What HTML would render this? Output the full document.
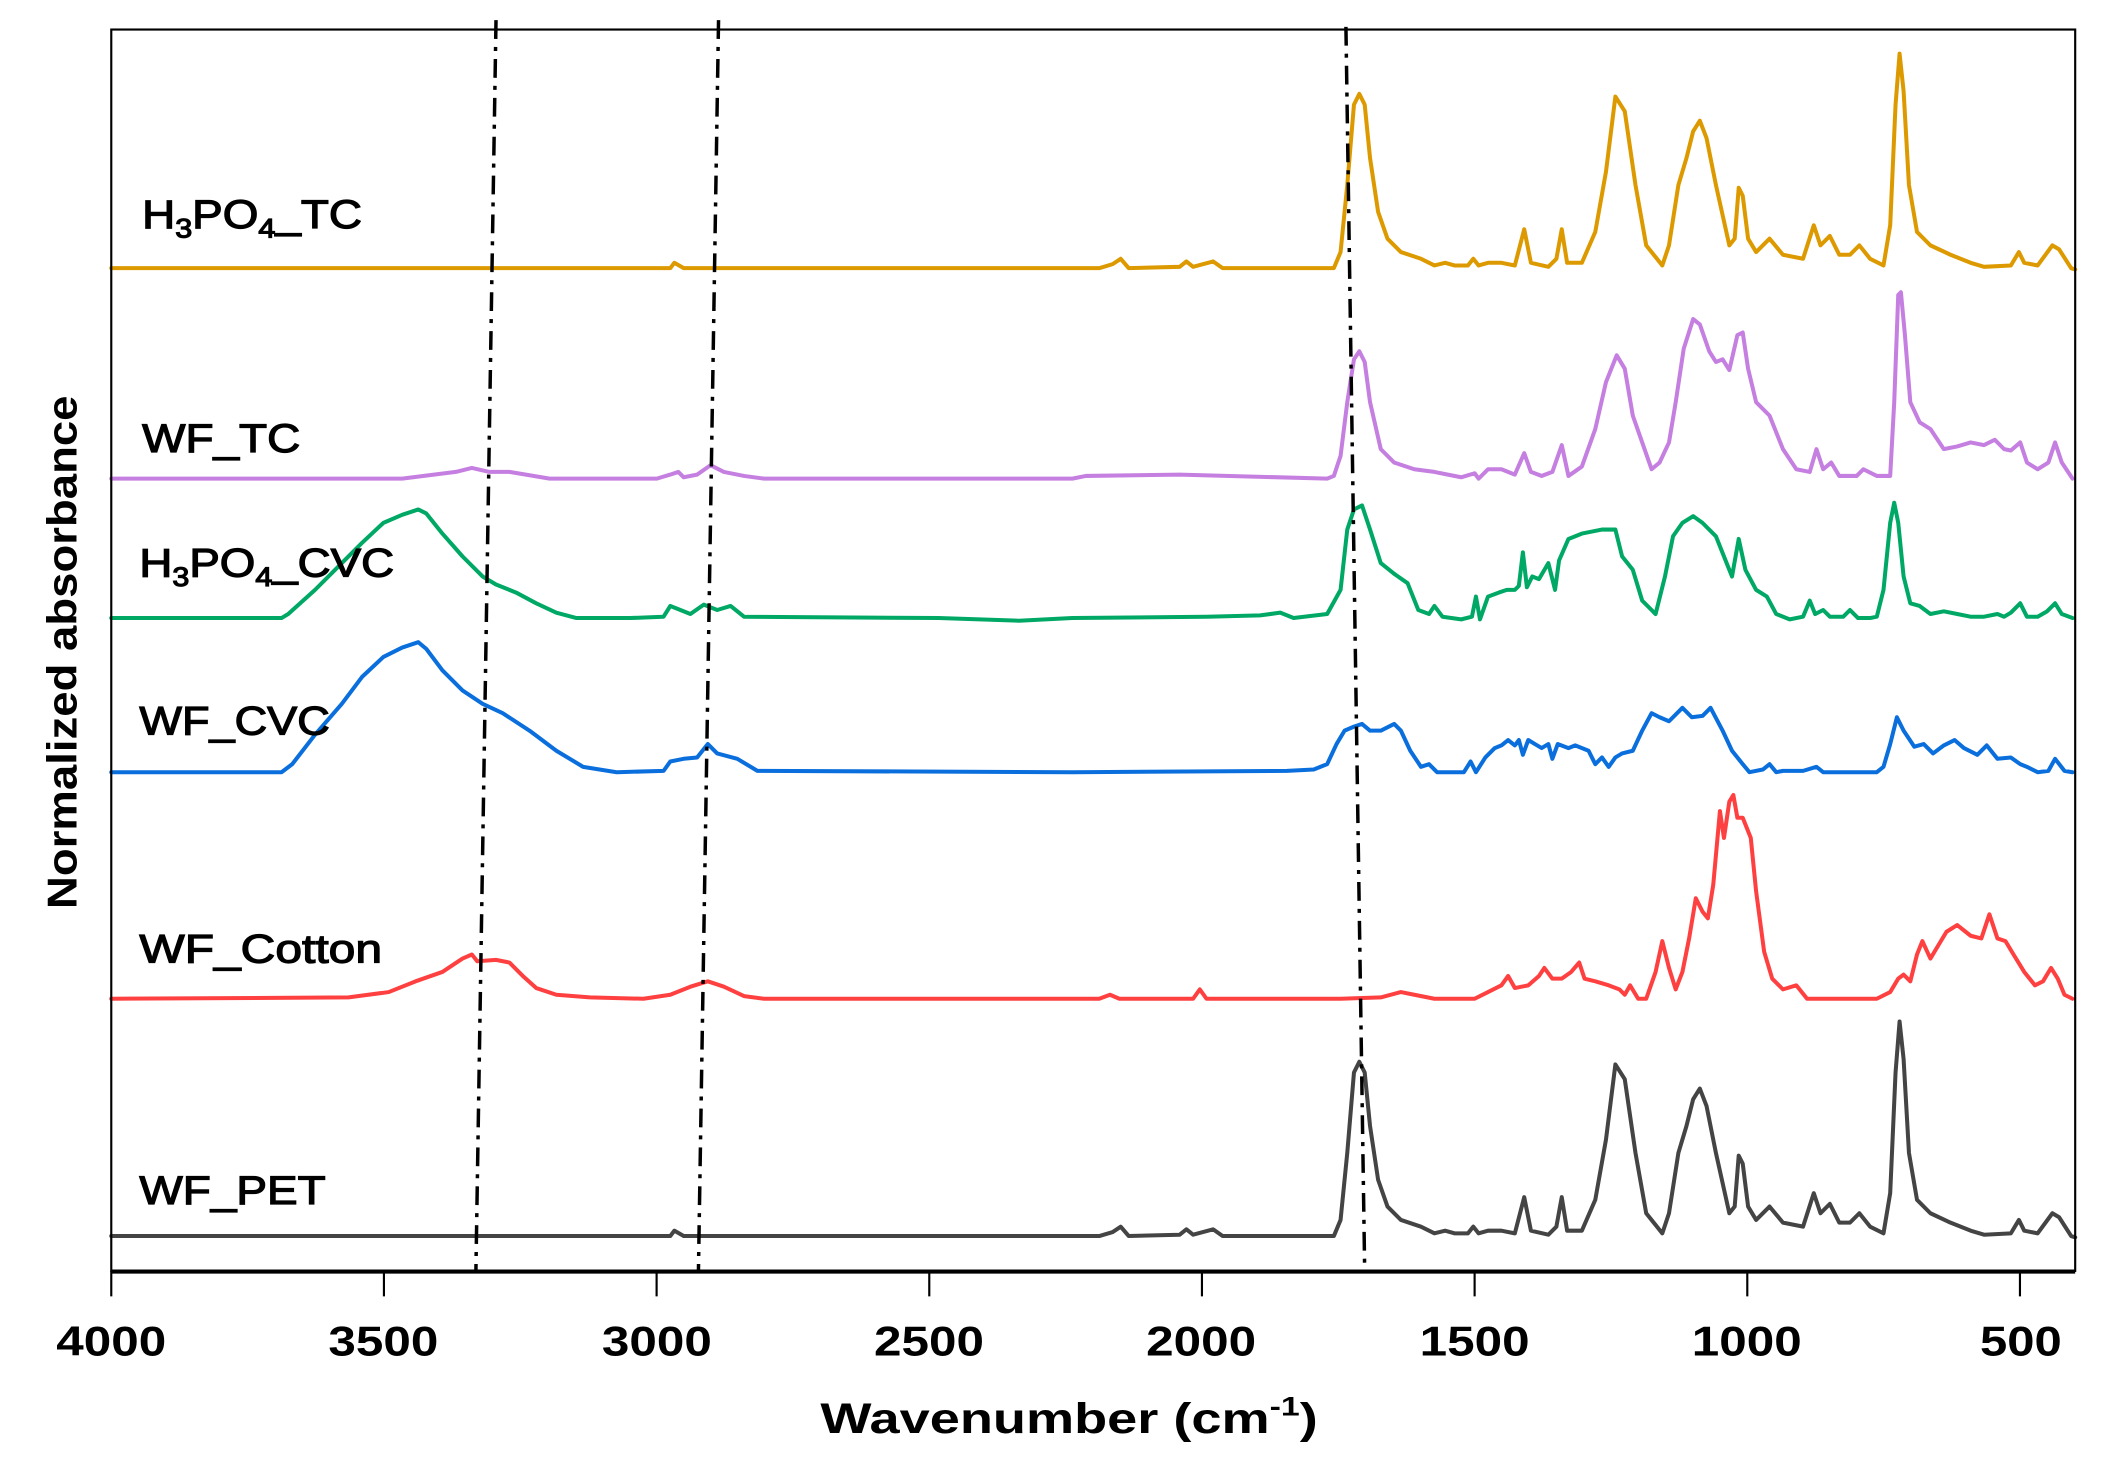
<!DOCTYPE html>
<html><head><meta charset="utf-8"><style>
html,body{margin:0;padding:0;background:#fff;}
svg{display:block;}
text{font-family:"Liberation Sans",Arial,sans-serif;}
</style></head><body>
<svg width="2102" height="1468" viewBox="0 0 1568 1095" xmlns="http://www.w3.org/2000/svg">
<rect x="0" y="0" width="1568" height="1095" fill="#fff"/>
<defs>
<polyline id="pet" points="83,922 500,922 503,918 510,922 820,922 830,919 836,915 842,922 880,921 885,917 890,921 905,917 912,922 995,922 1000,910 1005,860 1010,800 1014,792 1018,800 1022,840 1028,880 1035,900 1045,910 1060,915 1070,920 1078,918 1085,920 1095,920 1099,915 1103,920 1110,918 1120,918 1130,920 1137,893 1142,918 1155,921 1161,915 1165,893 1169,918 1180,918 1190,895 1198,850 1205,794 1212,805 1220,860 1228,905 1236,915 1240,920 1245,905 1252,860 1258,840 1263,820 1268,812 1273,825 1280,860 1290,905 1294,900 1297,862 1300,868 1304,900 1310,910 1320,900 1330,912 1345,915 1353,890 1358,905 1365,898 1372,912 1380,912 1387,905 1395,915 1405,920 1410,890 1414,800 1417,762 1420,790 1424,860 1430,895 1440,905 1455,912 1470,918 1480,921 1500,920 1506,910 1510,918 1520,920 1531,905 1536,908 1545,922 1548,923"/>
</defs>
<g fill="none" stroke-width="3" stroke-linejoin="round" stroke-linecap="round">
<use href="#pet" stroke="#444444"/>
<use href="#pet" stroke="#dd9a00" transform="translate(0,-722)"/>
<polyline stroke="#c57fe0" points="83,357 300,357 340,352 352,349 365,352 380,352 410,357 490,357 500,354 506,352 510,356 520,354 530,347 540,352 555,355 570,357 800,357 810,355 880,354 990,357 995,355 1000,340 1005,300 1010,268 1014,262 1018,270 1022,300 1030,335 1040,345 1055,350 1070,352 1080,354 1090,356 1100,353 1103,357 1110,350 1120,350 1130,354 1137,338 1142,352 1150,355 1158,352 1165,332 1170,355 1180,348 1190,320 1198,285 1206,265 1212,275 1218,310 1225,330 1232,350 1238,345 1245,330 1250,300 1256,260 1263,238 1268,242 1275,262 1280,270 1285,268 1290,276 1296,250 1300,248 1304,275 1310,300 1320,310 1330,335 1340,350 1350,352 1355,335 1360,350 1366,345 1372,355 1385,355 1390,350 1400,355 1410,355 1413,300 1416,220 1418,218 1421,250 1425,300 1432,315 1440,320 1450,335 1460,333 1470,330 1480,332 1488,328 1495,335 1500,336 1507,330 1512,345 1520,350 1528,345 1533,330 1538,345 1546,357"/>
<polyline stroke="#00a865" points="83,461 210,461 215,458 235,440 255,420 270,405 286,390 300,384 312,380 318,383 330,398 345,415 360,430 370,436 385,442 400,450 415,457 430,461 470,461 495,460 500,452 505,454 515,458 525,451 535,455 545,452 555,460 700,461 760,463 800,461 900,460 940,459 955,457 965,461 990,458 1000,440 1005,395 1010,380 1016,377 1022,395 1030,420 1040,428 1050,435 1058,455 1066,458 1070,452 1076,460 1090,462 1098,460 1101,445 1104,462 1110,445 1118,442 1124,440 1130,440 1133,437 1136,412 1139,438 1143,430 1148,432 1155,420 1160,440 1163,418 1170,402 1180,398 1195,395 1205,395 1210,415 1218,425 1225,448 1232,455 1235,458 1242,430 1248,400 1255,390 1263,385 1270,390 1280,400 1288,420 1292,430 1297,402 1302,425 1310,440 1318,445 1325,458 1335,462 1345,460 1350,448 1354,458 1360,455 1365,460 1375,460 1380,455 1386,461 1395,461 1400,460 1405,440 1410,390 1413,375 1416,390 1420,430 1425,450 1432,452 1440,458 1450,456 1460,458 1470,460 1480,460 1490,458 1495,460 1500,457 1507,450 1512,460 1520,460 1527,456 1533,450 1538,458 1546,461"/>
<polyline stroke="#0a6fdc" points="83,576 210,576 218,570 235,548 255,525 270,505 286,490 300,483 312,479 318,484 330,500 345,515 360,525 375,532 395,545 415,560 435,572 460,576 495,575 500,568 510,566 520,565 528,555 535,562 550,566 565,575 800,576 960,575 980,574 990,570 997,555 1003,545 1010,542 1016,540 1022,545 1030,545 1040,540 1045,545 1052,560 1060,572 1066,570 1072,576 1092,576 1097,568 1101,576 1108,565 1115,558 1120,556 1125,552 1130,556 1133,552 1136,563 1140,552 1145,555 1150,558 1155,555 1158,566 1162,555 1170,558 1175,556 1185,560 1190,570 1195,565 1200,572 1205,565 1210,562 1218,560 1225,545 1232,532 1238,535 1245,538 1255,528 1262,535 1270,534 1276,528 1285,545 1292,560 1300,570 1305,576 1315,574 1320,570 1325,576 1330,575 1345,575 1355,572 1360,576 1400,576 1405,572 1410,555 1415,535 1420,545 1428,557 1435,555 1442,562 1450,556 1458,552 1465,558 1475,563 1482,556 1490,566 1500,565 1507,570 1512,572 1520,576 1528,575 1533,566 1540,575 1546,576"/>
<polyline stroke="#ff4040" points="83,745 260,744 290,740 310,732 330,725 345,715 352,712 356,717 370,716 380,718 390,728 400,737 415,742 440,744 480,745 500,742 515,736 528,732 540,736 555,743 570,745 820,745 828,742 835,745 890,745 895,738 900,745 1000,745 1030,744 1045,740 1055,742 1070,745 1100,745 1110,740 1120,735 1125,728 1130,737 1140,735 1148,728 1152,722 1158,730 1165,730 1172,725 1178,718 1182,730 1190,732 1200,735 1208,738 1212,742 1216,735 1222,745 1228,745 1235,725 1240,702 1245,722 1250,738 1255,725 1260,700 1265,670 1270,680 1274,685 1278,660 1283,605 1286,625 1290,598 1293,593 1296,610 1300,610 1306,625 1310,665 1316,710 1322,730 1330,738 1340,735 1348,745 1400,745 1410,740 1416,730 1420,727 1425,732 1430,712 1434,702 1440,715 1446,705 1452,695 1460,690 1470,698 1478,700 1484,682 1490,700 1496,702 1502,712 1510,725 1518,735 1524,732 1530,722 1535,730 1540,742 1546,745"/>
</g>
<g stroke="#000" stroke-width="2.6" stroke-dasharray="14,6,3,6" fill="none">
<line x1="370" y1="15" x2="355" y2="948"/>
<line x1="536" y1="15" x2="521" y2="948"/>
<line x1="1004" y1="20" x2="1018" y2="948"/>
</g>
<rect x="83" y="22" width="1465" height="926" fill="none" stroke="#000" stroke-width="1.6"/>
<line x1="83" y1="948.5" x2="1548" y2="948.5" stroke="#000" stroke-width="3"/>
<g stroke="#000" stroke-width="1.6">
<line x1="83" y1="948" x2="83" y2="967"/><line x1="286.4" y1="948" x2="286.4" y2="967"/>
<line x1="489.8" y1="948" x2="489.8" y2="967"/><line x1="693.2" y1="948" x2="693.2" y2="967"/>
<line x1="896.6" y1="948" x2="896.6" y2="967"/><line x1="1100" y1="948" x2="1100" y2="967"/>
<line x1="1303.4" y1="948" x2="1303.4" y2="967"/><line x1="1506.8" y1="948" x2="1506.8" y2="967"/>
</g>
<g font-size="31" font-weight="bold" fill="#000">
<text x="42" y="1011" textLength="82" lengthAdjust="spacingAndGlyphs">4000</text>
<text x="245" y="1011" textLength="82" lengthAdjust="spacingAndGlyphs">3500</text>
<text x="449" y="1011" textLength="82" lengthAdjust="spacingAndGlyphs">3000</text>
<text x="652" y="1011" textLength="82" lengthAdjust="spacingAndGlyphs">2500</text>
<text x="855" y="1011" textLength="82" lengthAdjust="spacingAndGlyphs">2000</text>
<text x="1059" y="1011" textLength="82" lengthAdjust="spacingAndGlyphs">1500</text>
<text x="1262" y="1011" textLength="82" lengthAdjust="spacingAndGlyphs">1000</text>
<text x="1477" y="1011" textLength="61" lengthAdjust="spacingAndGlyphs">500</text>
</g>
<text x="612" y="1069" font-size="32" font-weight="bold" textLength="371" lengthAdjust="spacingAndGlyphs">Wavenumber (cm<tspan font-size="20" dy="-13">-1</tspan><tspan dy="13">)</tspan></text>
<text transform="translate(57,678) rotate(-90)" font-size="31" font-weight="bold" textLength="383" lengthAdjust="spacingAndGlyphs">Normalized absorbance</text>
<g font-size="30" fill="#000" stroke="#000" stroke-width="0.9">
<text x="106" y="170" textLength="164" lengthAdjust="spacingAndGlyphs">H<tspan font-size="20" dy="7">3</tspan><tspan dy="-7">PO</tspan><tspan font-size="20" dy="7">4</tspan><tspan dy="-7">_TC</tspan></text>
<text x="106" y="337" textLength="118" lengthAdjust="spacingAndGlyphs">WF_TC</text>
<text x="104" y="430" textLength="190" lengthAdjust="spacingAndGlyphs">H<tspan font-size="20" dy="7">3</tspan><tspan dy="-7">PO</tspan><tspan font-size="20" dy="7">4</tspan><tspan dy="-7">_CVC</tspan></text>
<text x="104" y="548" textLength="142" lengthAdjust="spacingAndGlyphs">WF_CVC</text>
<text x="104" y="718" textLength="181" lengthAdjust="spacingAndGlyphs">WF_Cotton</text>
<text x="104" y="898" textLength="139" lengthAdjust="spacingAndGlyphs">WF_PET</text>
</g>
</svg>
</body></html>
